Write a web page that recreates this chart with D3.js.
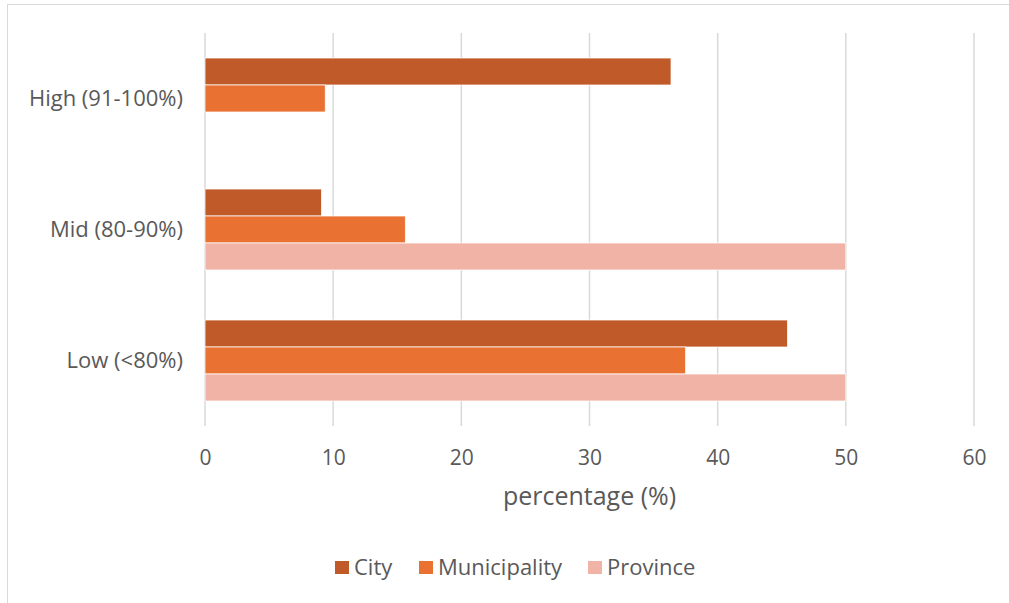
<!DOCTYPE html>
<html><head><meta charset="utf-8">
<script src="https://cdn.jsdelivr.net/npm/d3@7"></script>
<style>body{margin:0;background:#fff}svg{display:block}text{font-family:"Open Sans","Noto Sans",sans-serif;fill:#595959}</style>
</head><body><svg id="c" width="1009" height="603"></svg>
<script>
const categories = ["High (91-100%)", "Mid (80-90%)", "Low (<80%)"];
const seriesNames = ["City", "Municipality", "Province"];
const cityValues = [36.36, 9.09, 45.45];
const municipalityValues = [9.38, 15.63, 37.5];
const provinceValues = [0, 50, 50];
const xTicks = [0, 10, 20, 30, 40, 50, 60];
const colors = ["#C05A28", "#E97132", "#F1B3A5"];
const seriesValues = [cityValues, municipalityValues, provinceValues];

(function(){
const svg = d3.select("#c");
svg.append("rect").attr("x",7.5).attr("y",4.5).attr("width",1100).attr("height",700)
  .attr("fill","none").attr("stroke","#d9d9d9").attr("stroke-width",1);

const pL=205, pR=974, pT=33, pB=426;
const x = d3.scaleLinear().domain([0,60]).range([pL,pR]);
const y = d3.scaleBand().domain(categories).range([pT,pB]).paddingInner(50/131).paddingOuter(25/131);
const yInner = d3.scaleBand().domain(seriesNames).range([0,y.bandwidth()]);

svg.append("g").selectAll("line").data(xTicks).join("line")
  .attr("x1",d=>x(d)).attr("x2",d=>x(d)).attr("y1",pT).attr("y2",pB)
  .attr("stroke","#d9d9d9").attr("stroke-width",1.5);

const data = [];
categories.forEach((c,i)=>seriesNames.forEach((s,j)=>data.push({c,s,v:seriesValues[j][i],j})));
svg.append("g").selectAll("rect").data(data.filter(d=>d.v>0)).join("rect")
  .attr("x",x(0)).attr("y",d=>y(d.c)+yInner(d.s)).attr("width",d=>x(d.v)-x(0))
  .attr("height",yInner.bandwidth()).attr("fill",d=>colors[d.j])
  .attr("stroke","#fff").attr("stroke-width",0.75);

const xAxis = svg.append("g").attr("transform",`translate(0,${pB})`)
  .call(d3.axisBottom(x).tickValues(xTicks).tickSize(0).tickPadding(24));
xAxis.select(".domain").remove();
xAxis.selectAll("text").style("font-size","21px").attr("fill","#595959");

const yAxis = svg.append("g").attr("transform",`translate(${pL},0)`)
  .call(d3.axisLeft(y).tickSize(0).tickPadding(22));
yAxis.select(".domain").remove();
yAxis.selectAll("text").style("font-size","22px").attr("fill","#595959");

svg.append("text").attr("x",(pL+pR)/2).attr("y",505).attr("text-anchor","middle")
  .style("font-size","25px").text("percentage (%)");

const legendX = [335, 419, 588];
const lg = svg.append("g").selectAll("g").data(seriesNames).join("g")
  .attr("transform",(d,i)=>`translate(${legendX[i]},561)`);
lg.append("rect").attr("width",14).attr("height",13).attr("fill",(d,i)=>colors[i]);
lg.append("text").attr("x",19).attr("y",14).style("font-size","22px").text(d=>d);
})();
</script></body></html>
